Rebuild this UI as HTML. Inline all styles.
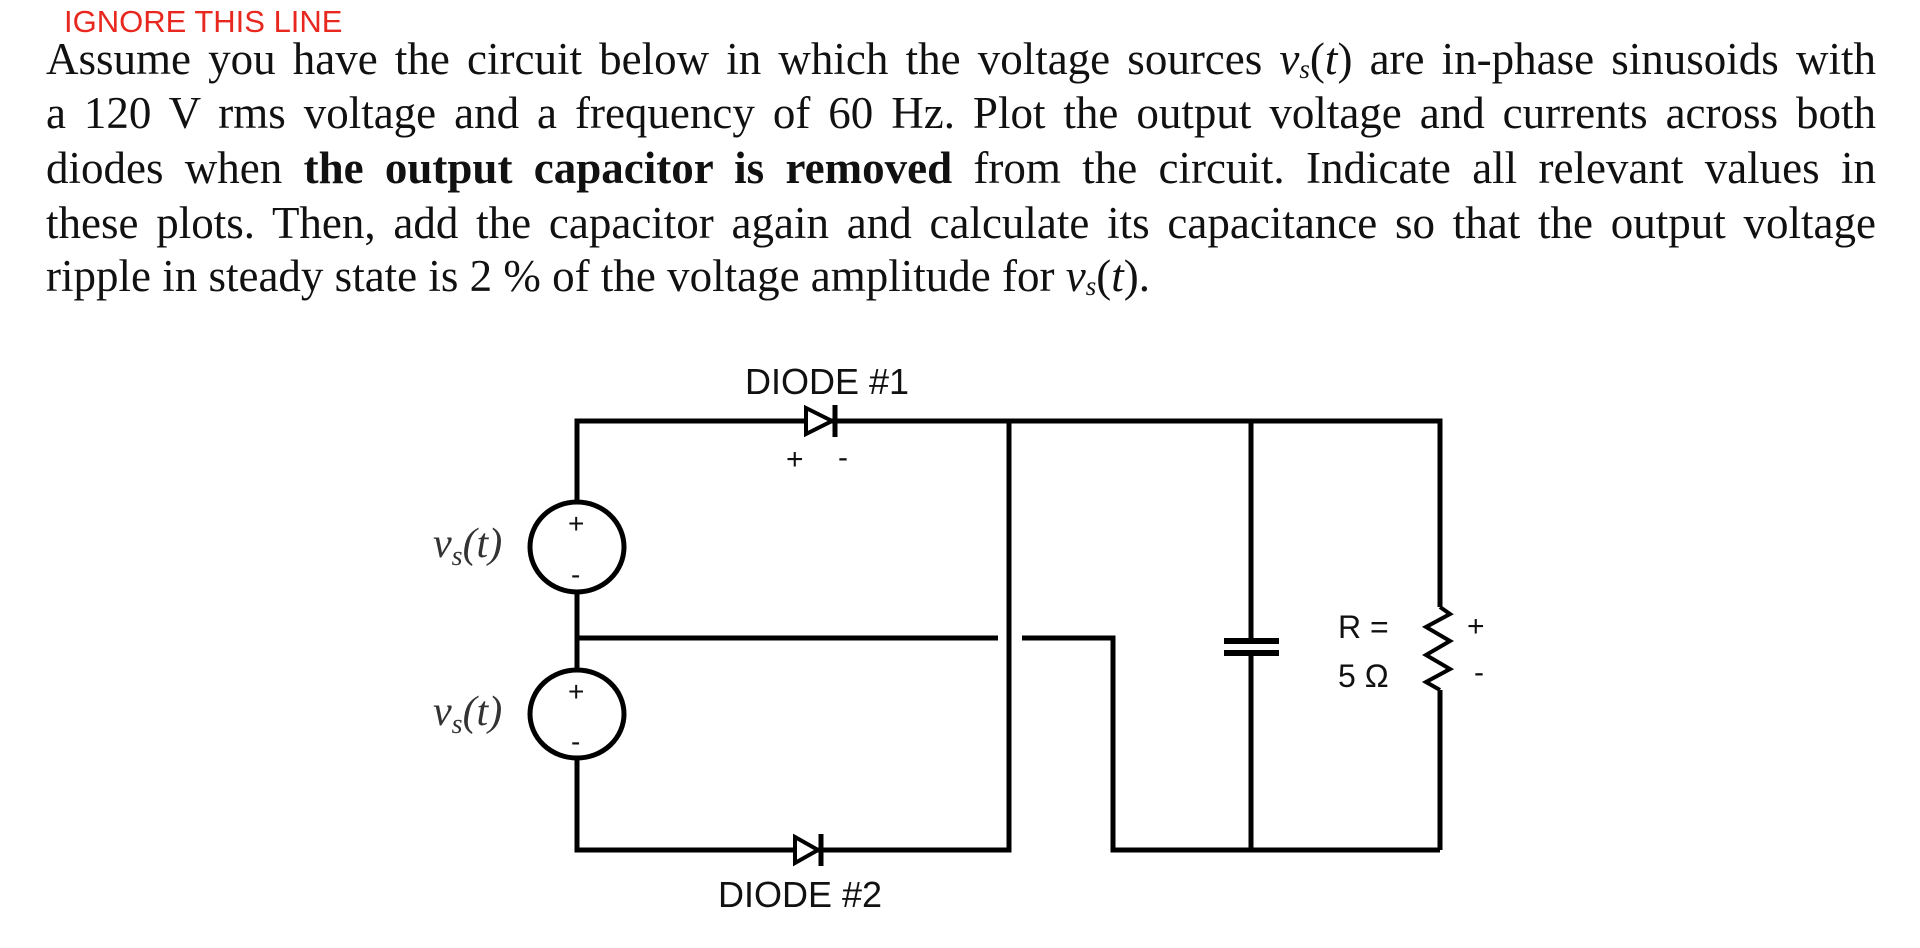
<!DOCTYPE html>
<html><head><meta charset="utf-8"><style>
html,body{margin:0;padding:0;background:#fff;width:1920px;height:948px;overflow:hidden}
.red{position:absolute;left:64px;top:4px;font:31px "Liberation Sans",sans-serif;color:#e8281e}
.p{position:absolute;left:46px;width:1830px;font:45px "Liberation Serif",serif;color:#111;}
.l{position:absolute;left:0;width:1830px;white-space:nowrap;text-align:justify;text-align-last:justify}
.l.last{text-align-last:left}
i sub{font-size:60%;vertical-align:-0.15em}
</style></head><body>
<div class="red">IGNORE THIS LINE</div>
<div class="p">
<div class="l" style="top:33px">Assume you have the circuit below in which the voltage sources <i>v<sub>s</sub></i>(<i>t</i>) are in-phase sinusoids with</div>
<div class="l" style="top:87px">a 120 V rms voltage and a frequency of 60 Hz. Plot the output voltage and currents across both</div>
<div class="l" style="top:142px">diodes when <b>the output capacitor is removed</b> from the circuit. Indicate all relevant values in</div>
<div class="l" style="top:197px">these plots. Then, add the capacitor again and calculate its capacitance so that the output voltage</div>
<div class="l last" style="top:250px">ripple in steady state is 2 % of the voltage amplitude for <i>v<sub>s</sub></i>(<i>t</i>).</div>
</div>
<svg width="1920" height="948" style="position:absolute;left:0;top:0" xmlns="http://www.w3.org/2000/svg">
<g stroke="#000" stroke-width="5" fill="none">
<polyline points="577,502 577,421 1440,421 1440,607"/>
<line x1="1440" y1="690" x2="1440" y2="850"/>
<ellipse cx="577" cy="547" rx="47" ry="45"/>
<ellipse cx="577" cy="714" rx="47" ry="44"/>
<line x1="577" y1="592" x2="577" y2="670"/>
<polyline points="577,758 577,850 1009,850 1009,421"/>
<line x1="577" y1="638" x2="998" y2="638"/>
<polyline points="1022,638 1113,638 1113,850 1440,850"/>
<line x1="1251" y1="421" x2="1251" y2="641"/>
<line x1="1251" y1="653" x2="1251" y2="850"/>
<line x1="1224" y1="641" x2="1279" y2="641" stroke-width="6"/>
<line x1="1224" y1="653" x2="1279" y2="653" stroke-width="6"/>
<polyline points="1440,607 1450,614 1426,627 1450,641 1426,655 1450,669 1426,682 1440,690" stroke-width="4"/>
</g>
<g fill="#fff" stroke="#000" stroke-width="4">
<polygon points="806,408 832,421 806,434"/>
<line x1="835" y1="405" x2="835" y2="437" stroke-width="5"/>
<polygon points="795,837 818,850 795,863"/>
<line x1="821" y1="834" x2="821" y2="866" stroke-width="5"/>
</g>
<g font-family="Liberation Sans, sans-serif" fill="#111">
<text x="745" y="394" font-size="36">DIODE #1</text>
<text x="718" y="907" font-size="36">DIODE #2</text>
<text x="786" y="469" font-size="30">+</text>
<text x="838" y="467" font-size="30">-</text>
<text x="1338" y="638" font-size="32">R =</text>
<text x="1338" y="687" font-size="32">5 Ω</text>
<text x="1467" y="636" font-size="30">+</text>
<text x="1474" y="682" font-size="30">-</text>
<text x="568" y="533" font-size="28">+</text>
<text x="571" y="584" font-size="28">-</text>
<text x="568" y="701" font-size="28">+</text>
<text x="571" y="751" font-size="28">-</text>
</g>
<g font-family="Liberation Serif, serif" font-style="italic" fill="#333" font-size="42">
<text x="433" y="557">v<tspan font-size="28" dy="8">s</tspan><tspan dy="-8">(t)</tspan></text>
<text x="433" y="725">v<tspan font-size="28" dy="8">s</tspan><tspan dy="-8">(t)</tspan></text>
</g>
</svg>
</body></html>
